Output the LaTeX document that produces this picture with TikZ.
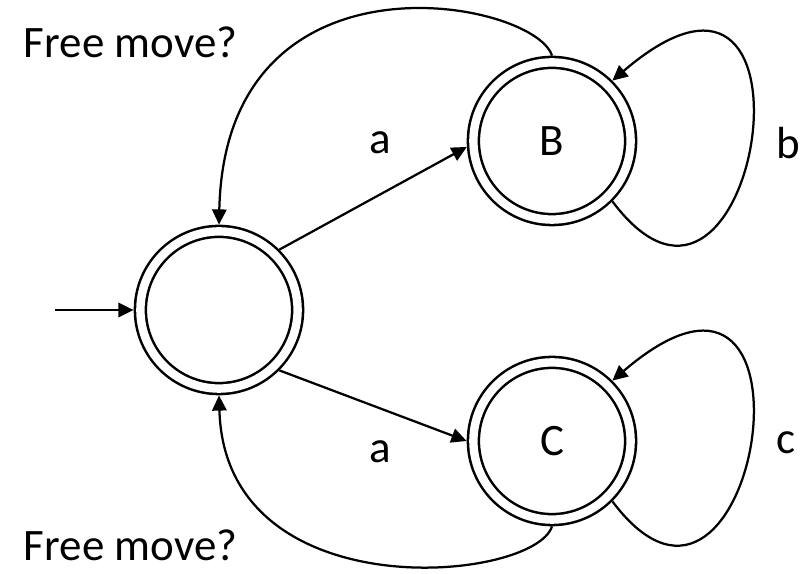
\documentclass[tikz,border=0pt]{standalone}
\usepackage{fontspec}
\setmainfont{Carlito}
\usetikzlibrary{arrows.meta}
\tikzset{
  state/.style={circle, draw, double, double distance=0.21cm, line width=1.8pt,
    minimum size=3.93cm, inner sep=0pt, outer sep=0.17cm},
  edge/.style={line width=1.6pt, -{Triangle[length=0.38cm,width=0.36cm]}},
}
\begin{document}
\begin{tikzpicture}[font=\fontsize{32}{38}\selectfont]
  \useasboundingbox (0,0) rectangle (20,14.35);
  \draw
    (5.475,6.6) node[state] (s){}
    (13.8,10.825) node[state] (B){B}
    (13.8,3.325) node[state] (C){C}
    (1.375,6.6) coordinate (in);
  \draw
    (9.5,10.775) node (aB){a}
    (9.5,3.05) node (aC){a}
    (19.7,10.775) node (b){b}
    (19.65,3.275) node (c){c}
    (0.475,13.3) node[anchor=west] (top){Free move?}
    (0.475,0.725) node[anchor=west] (bot){Free move?};
  \begin{scope}[edge]
    \draw (in) to (s);
    \draw (s.45) to (B.184);
    \draw (s.-45) to (C.180);
    \draw (B.-45) .. controls +(3.6,-4.8) and +(5.6,4.8) .. (B.45);
    \draw (C.-45) .. controls +(3.6,-4.8) and +(5.6,4.8) .. (C.45);
    \draw (B.north) .. controls +(-0.45,1.4) and +(0.15,7.1) .. (s.north);
    \draw (C.south) .. controls +(-0.45,-1.4) and +(0.15,-5.4) .. (s.south);
  \end{scope}
\end{tikzpicture}
\end{document}
